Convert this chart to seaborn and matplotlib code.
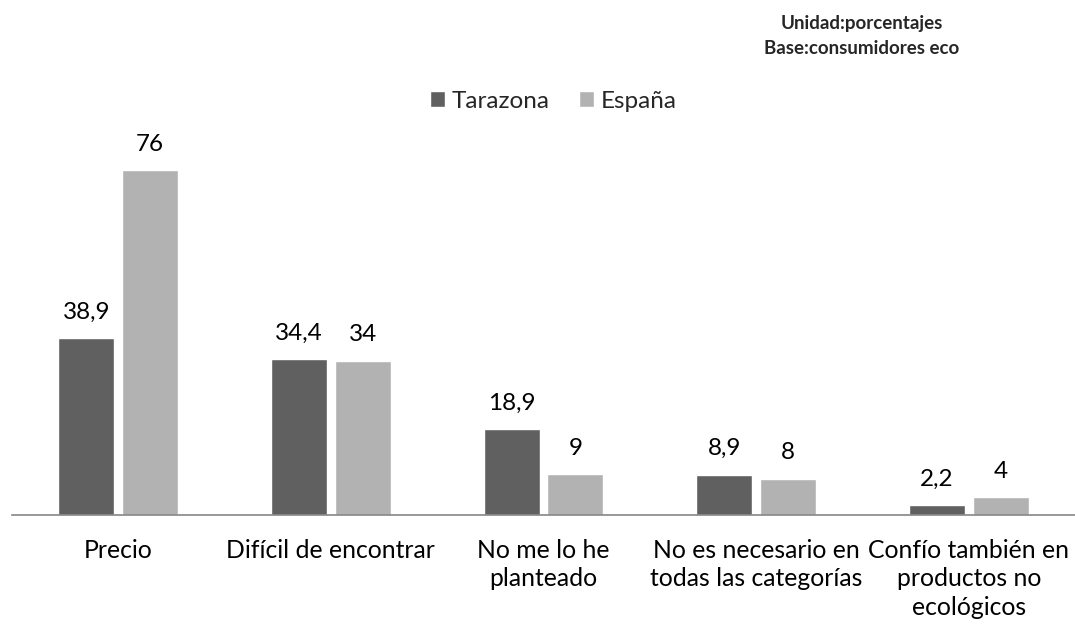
import numpy as np
import pandas as pd
import matplotlib
matplotlib.use("Agg")
import matplotlib.pyplot as plt
import seaborn as sns

categorias = ["Precio", "Difícil de encontrar", "No me lo he\nplanteado",
              "No es necesario en\ntodas las categorías",
              "Confío también en\nproductos no\necológicos"]
tarazona = [38.9, 34.4, 18.9, 8.9, 2.2]
espana = [76, 34, 9, 8, 4]
series = ["Tarazona", "España"]
colores = ["#606060", "#b2b2b2"]

df = pd.DataFrame({
    "categoria": categorias * 2,
    "serie": [series[0]] * 5 + [series[1]] * 5,
    "valor": tarazona + espana,
})

sns.set_theme(style="white")
plt.rcParams["font.family"] = ["Lato", "DejaVu Sans"]

fig = plt.figure(figsize=(10.75, 6.27), dpi=100)
ax = fig.add_axes([12 / 1075, 112 / 627, 1 - 12 / 1075, (515 - 152) / 627])

sns.barplot(data=df, x="categoria", y="valor", hue="serie", palette=colores,
            width=0.6, gap=0.12, saturation=1, ax=ax, legend=True)

ax.set_ylim(0, 80)
ax.set_xlim(-0.5, 4.5)
ax.set_xlabel("")
ax.set_ylabel("")
ax.set_yticks([])
for s in ["top", "right", "left"]:
    ax.spines[s].set_visible(False)
ax.spines["bottom"].set_color("#868686")
ax.spines["bottom"].set_linewidth(1.2)
ax.tick_params(axis="x", length=0, pad=17, labelsize=17.8, colors="black")
for lbl in ax.get_xticklabels():
    lbl.set_linespacing(1.3)

for cont in ax.containers:
    labels = [f"{v:g}".replace(".", ",") for v in cont.datavalues]
    ax.bar_label(cont, labels=labels, padding=11, fontsize=17.5, color="black")

ax.legend(loc="center", bbox_to_anchor=(553 / 1075, 1 - 101 / 627),
          bbox_transform=fig.transFigure, ncol=2, frameon=False,
          fontsize=17.5, handlelength=0.65, handleheight=0.65,
          handletextpad=0.25, columnspacing=1.2)

fig.text(862 / 1075, 1 - 24 / 627, "Unidad:porcentajes", ha="center", va="center",
         fontsize=13.5, fontweight="bold")
fig.text(862 / 1075, 1 - 49 / 627, "Base:consumidores eco", ha="center", va="center",
         fontsize=13.5, fontweight="bold")

fig.savefig("out.png", dpi=100)
